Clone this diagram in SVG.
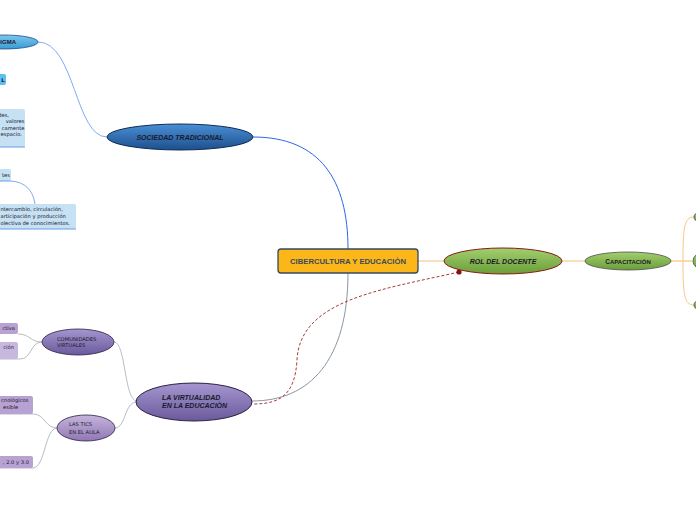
<svg xmlns="http://www.w3.org/2000/svg" width="696" height="520" viewBox="0 0 696 520">
<defs>
<linearGradient id="gBlue" x1="0" y1="0" x2="0" y2="1"><stop offset="0" stop-color="#4a8fd6"/><stop offset="1" stop-color="#1d4f8c"/></linearGradient>
<linearGradient id="gLBlue" x1="0" y1="0" x2="0" y2="1"><stop offset="0" stop-color="#7cc6ee"/><stop offset="1" stop-color="#3a9bd4"/></linearGradient>
<linearGradient id="gGreen" x1="0" y1="0" x2="0" y2="1"><stop offset="0" stop-color="#a3cf6e"/><stop offset="1" stop-color="#6a9e38"/></linearGradient>
<linearGradient id="gPurple" x1="0" y1="0" x2="0" y2="1"><stop offset="0" stop-color="#a596d0"/><stop offset="1" stop-color="#6a5a9c"/></linearGradient>
<linearGradient id="gLPurple" x1="0" y1="0" x2="0" y2="1"><stop offset="0" stop-color="#c6b4dc"/><stop offset="1" stop-color="#9078b4"/></linearGradient>
</defs>
<style>
text{font-family:"Liberation Sans",Arial,sans-serif;fill:#1a1a2a}
.b{font-weight:bold}
.bi{font-weight:bold;font-style:italic}
.s{font-family:"DejaVu Sans",Verdana,sans-serif;font-size:5.2px}
.c{fill:none;stroke-width:1}
.lb{fill:#c6e0f4}
.pb{fill:#b8a2d4}
</style>
<rect width="696" height="520" fill="#ffffff"/>
<g id="connectors">
<path class="c" d="M348,249 C348,180 320,137 253,137" stroke="#2a66e8" stroke-width="1.4"/>
<path class="c" d="M348,273 C348,360 310,401 252,401" stroke="#8896a6" stroke-width="1.4"/>
<path class="c" d="M418,261 L444,261" stroke="#f3c07c"/>
<path class="c" d="M562,261 L585,261" stroke="#f3c07c"/>
<path class="c" d="M671,261 L692,261" stroke="#f5b860" stroke-width="1.3"/>
<path class="c" d="M683,261 C683,228 684,217 694,217" stroke="#f5c88a"/>
<path class="c" d="M683,261 C683,294 684,305 694,305" stroke="#f5c88a"/>
<path class="c" d="M459,272 C380,290 300,300 297,360 C295,395 280,404 253,404" stroke="#a83a3a" stroke-width="1.6" stroke-dasharray="3,2"/>
<circle cx="459" cy="272" r="2.6" fill="#8b1010"/>
<path class="c" d="M107,137 C75,137 75,42 38,42" stroke="#84aaf2"/>
<path class="c" d="M11,181 C25,182 33,190 35,204" stroke="#84aaf2"/>
<path class="c" d="M137,401 C124,401 126,342 114,342" stroke="#b8bcc4"/>
<path class="c" d="M137,402 C124,402 126,428 115,428" stroke="#b8bcc4"/>
<path class="c" d="M18,334 C30,334 30,342 42,342" stroke="#b8bcc4"/>
<path class="c" d="M0,359 L20,359 C32,359 30,342 42,342" stroke="#b8bcc4"/>
<path class="c" d="M0,414 L33,414 C45,414 45,428 57,428" stroke="#b8bcc4"/>
<path class="c" d="M0,468 L33,468 C45,468 45,428 57,428" stroke="#b8bcc4"/>
</g>
<g id="center">
<rect x="278" y="249" width="140" height="24" rx="3" fill="#fbb61a" stroke="#34495e" stroke-width="1.3"/>
<text x="348" y="264" text-anchor="middle" class="b" font-size="7.7" style="fill:#3a4a5c">CIBERCULTURA Y EDUCACIÒN</text>
</g>
<g id="sociedad">
<ellipse cx="180" cy="137" rx="73" ry="13" fill="url(#gBlue)" stroke="#0f2d52"/>
<text x="180" y="139.5" text-anchor="middle" class="bi" font-size="7">SOCIEDAD TRADICIONAL</text>
</g>
<g id="rol">
<ellipse cx="503" cy="261" rx="59" ry="13" fill="url(#gGreen)" stroke="#8b1a1a"/>
<text x="503" y="263.5" text-anchor="middle" class="bi" font-size="7">ROL DEL DOCENTE</text>
</g>
<g id="capacitacion">
<ellipse cx="628" cy="261" rx="43" ry="9" fill="url(#gGreen)" stroke="#4a4a4a" stroke-width="0.8"/>
<text x="628" y="263.5" text-anchor="middle" class="b" font-size="6.5">C<tspan font-size="6">APACITACIÒN</tspan></text>
</g>
<g id="cap1"><ellipse cx="699" cy="217" rx="5" ry="4.5" fill="url(#gGreen)" stroke="#4a4a4a" stroke-width="0.8"/></g>
<g id="cap2"><ellipse cx="702" cy="261" rx="9" ry="8" fill="url(#gGreen)" stroke="#4a4a4a" stroke-width="0.8"/></g>
<g id="cap3"><ellipse cx="699" cy="305" rx="5" ry="4.5" fill="url(#gGreen)" stroke="#4a4a4a" stroke-width="0.8"/></g>
<g id="paradigma">
<ellipse cx="4" cy="42" rx="34" ry="7" fill="url(#gLBlue)" stroke="#1d4f8c" stroke-width="0.8"/>
<text x="16" y="44" text-anchor="end" class="b" font-size="6">PARADIGMA</text>
</g>
<g id="box-l">
<rect x="-20" y="74" width="26" height="11" rx="2" fill="#5bc0ee"/>
<text x="4.5" y="81.5" text-anchor="end" class="s" font-weight="bold">L</text>
</g>
<g id="box-espacio">
<rect x="-20" y="109" width="45" height="38" rx="2" class="lb"/>
<path d="M-20,147 L25,147" stroke="#6a9ae8" stroke-width="1"/>
<text class="s" text-anchor="end"><tspan x="9" y="117">des,</tspan><tspan x="24.5" y="123">valores</tspan><tspan x="24.5" y="130">camente</tspan><tspan x="22" y="136">espacio.</tspan></text>
</g>
<g id="box-tes">
<rect x="-20" y="169" width="31" height="12" rx="2" class="lb"/>
<path d="M-20,181 L11,181" stroke="#6a9ae8"/>
<text x="10" y="177" text-anchor="end" class="s">tes</text>
</g>
<g id="box-intercambio">
<rect x="-20" y="204" width="96" height="25" rx="2" class="lb"/>
<path d="M-20,229 L76,229" stroke="#6a9ae8"/>
<text class="s"><tspan x="0.5" y="211">ntercambio, circulación,</tspan><tspan x="0.5" y="218">articipación y producción</tspan><tspan x="0.5" y="225">olectiva de conocimientos.</tspan></text>
</g>
<g id="virtualidad">
<ellipse cx="194" cy="402" rx="58" ry="19" fill="url(#gPurple)" stroke="#2a2040"/>
<text class="bi" font-size="7"><tspan x="162" y="400">LA VIRTUALIDAD</tspan><tspan x="162" y="408">EN LA EDUCACIÒN</tspan></text>
</g>
<g id="comunidades">
<ellipse cx="78" cy="342" rx="36" ry="13" fill="url(#gPurple)" stroke="#2a2040" stroke-width="0.8"/>
<text class="s"><tspan x="57" y="341">COMUNIDADES</tspan><tspan x="57" y="347">VIRTUALES</tspan></text>
</g>
<g id="tics">
<ellipse cx="86" cy="428" rx="29" ry="13" fill="url(#gLPurple)" stroke="#2a2040" stroke-width="0.8"/>
<text class="s"><tspan x="69" y="426">LAS TICS</tspan><tspan x="69" y="434">EN EL AULA</tspan></text>
</g>
<g id="box-ctiva">
<rect x="-20" y="323" width="38" height="11" rx="2" class="pb"/>
<text x="15" y="330" text-anchor="end" class="s">ctiva</text>
</g>
<g id="box-cion">
<rect x="-20" y="342" width="38" height="17" rx="2" fill="#c8b8e0"/>
<text x="14" y="349" text-anchor="end" class="s">ción</text>
</g>
<g id="box-tecnologicos">
<rect x="-20" y="396" width="53" height="18" rx="2" class="pb"/>
<text class="s"><tspan x="1" y="402">cnológicos</tspan><tspan x="3" y="409">esible</tspan></text>
</g>
<g id="box-web">
<rect x="-20" y="456" width="53" height="12" rx="2" class="pb"/>
<text x="29" y="463.5" text-anchor="end" class="s">, 2.0 y 3.0</text>
</g>
</svg>
